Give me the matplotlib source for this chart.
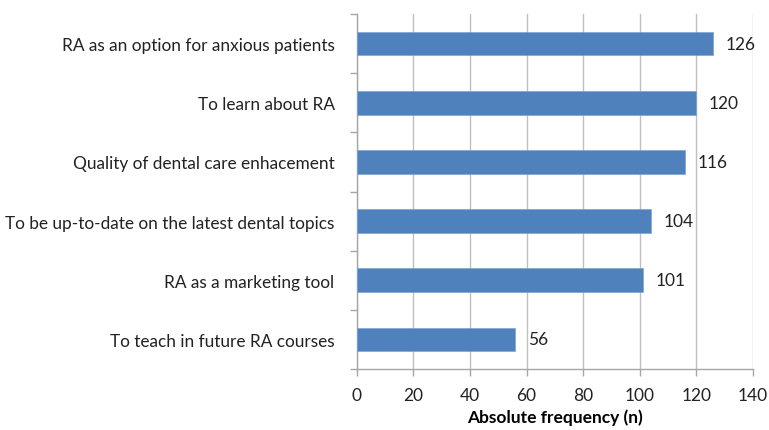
import matplotlib
matplotlib.use('Agg')
import matplotlib.pyplot as plt
import numpy as np

# ── Data ──────────────────────────────────────────────────────────
reasons = [
    'To teach in future RA courses',
    'RA as a marketing tool',
    'To be up-to-date on the latest dental topics',
    'Quality of dental care enhacement',
    'To learn about RA',
    'RA as an option for anxious patients',
]
counts = [56, 101, 104, 116, 120, 126]
x_ticks = [0, 20, 40, 60, 80, 100, 120, 140]

BAR = '#4F81BD'
GRID = '#BFBFBF'
AXIS = '#A6A6A6'

plt.rcParams['font.family'] = ['Lato', 'DejaVu Sans']

fig = plt.figure(figsize=(7.69, 4.31), dpi=100)
ax = fig.add_axes([0.464, 0.1415, 0.515, 0.8235])

y = np.arange(len(reasons))
bars = ax.barh(y, counts, height=0.4, color=BAR, edgecolor='#7FA3D0', linewidth=0.5, zorder=3)

# value labels to the right of each bar
for bar, val in zip(bars, counts):
    ax.text(bar.get_width() + 4.5, bar.get_y() + bar.get_height() / 2, str(val),
            va='center', ha='left', fontsize=12.5, color='#222222', zorder=4)

ax.set_xlim(0, 140)
ax.set_ylim(-0.5, len(reasons) - 0.5)
ax.set_xticks(x_ticks)
ax.set_xticklabels([str(t) for t in x_ticks], fontsize=12.5, color='#222222')
ax.set_yticks(y)
ax.set_yticklabels(reasons, fontsize=12.4, color='#222222')
ax.tick_params(axis='y', length=0, pad=16)
# category boundary ticks, Excel style
ax.set_yticks(np.arange(-0.5, len(reasons), 1.0), minor=True)
ax.tick_params(axis='y', which='minor', length=5, color=AXIS, width=1)
ax.tick_params(axis='x', length=5, color=AXIS, width=1, pad=8)

ax.grid(axis='x', color=GRID, linewidth=1, zorder=0)
ax.set_axisbelow(True)
for s in ['top', 'right']:
    ax.spines[s].set_visible(False)
for s in ['left', 'bottom']:
    ax.spines[s].set_color(AXIS)
    ax.spines[s].set_linewidth(1)

ax.set_xlabel('Absolute frequency (n)', fontsize=12.5, fontweight='bold', labelpad=4)

fig.savefig('out.png', dpi=100)
